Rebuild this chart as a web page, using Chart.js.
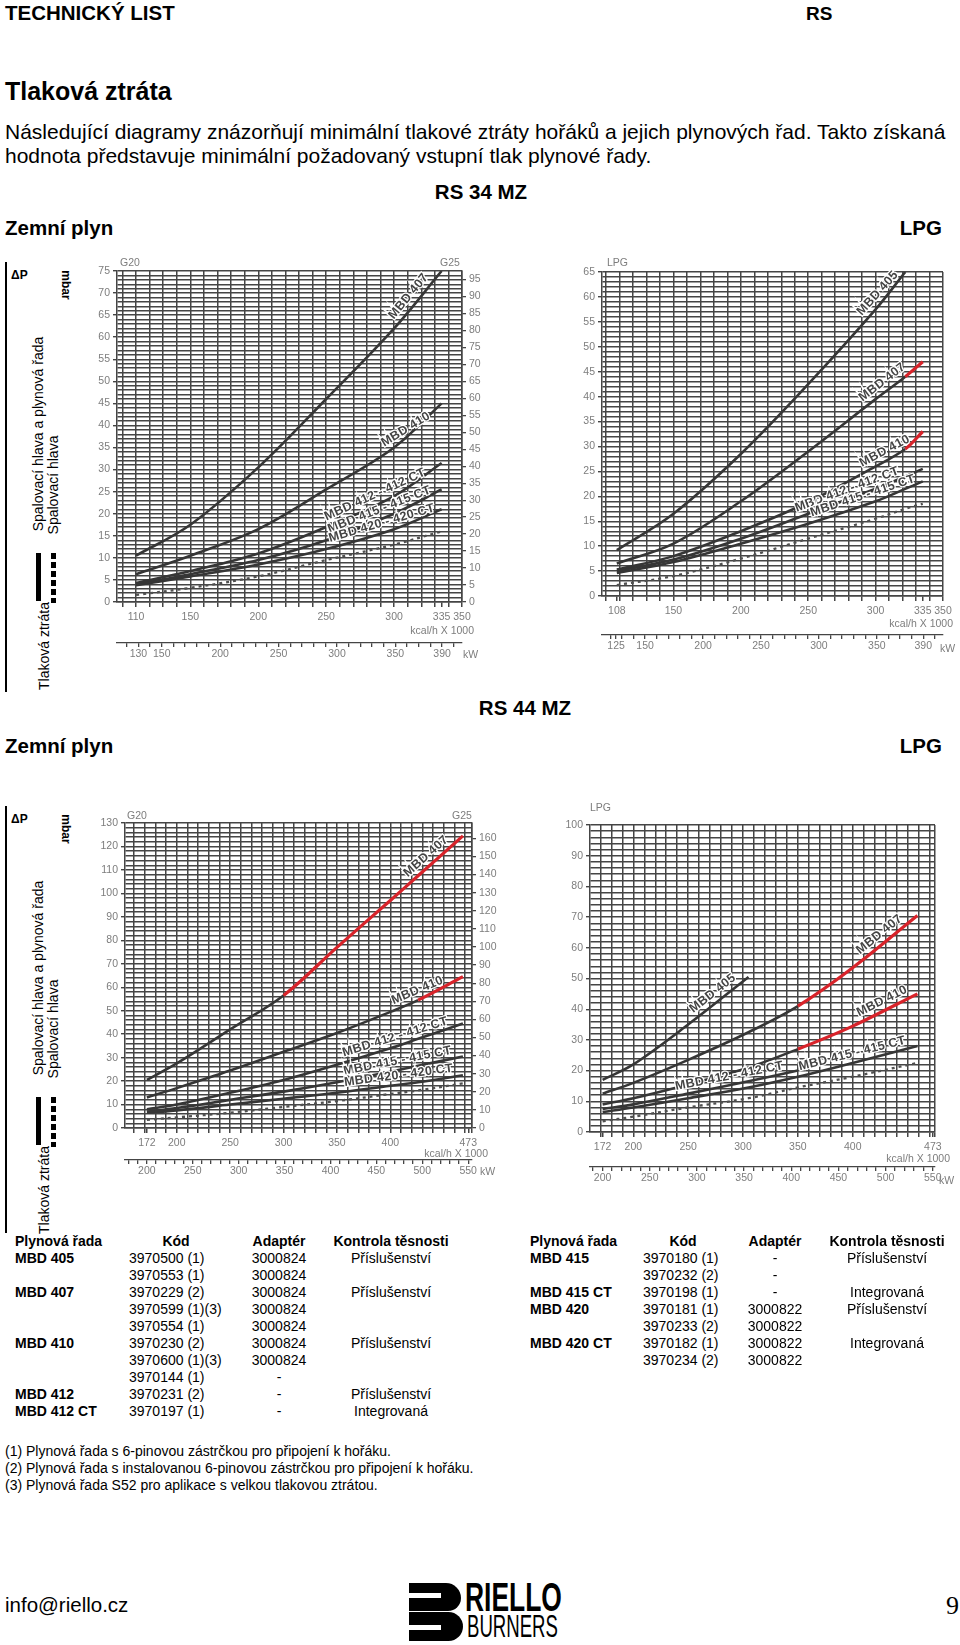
<!DOCTYPE html>
<html lang="cs">
<head>
<meta charset="utf-8">
<title>Tlaková ztráta – RS 34 MZ / RS 44 MZ</title>
<script src="https://cdn.jsdelivr.net/npm/chart.js@4.4.1/dist/chart.umd.min.js"></script>
<style>
  html, body { margin: 0; padding: 0; background: #fff; }
  body { position: relative; width: 960px; height: 1645px; overflow: hidden;
         font-family: "Liberation Sans", Arial, Helvetica, sans-serif; color: #000; }
  .t { position: absolute; white-space: nowrap; line-height: 1; transform: translateY(-50%); }
  .c { transform: translate(-50%, -50%); }
  .b { font-weight: bold; }
  .up { transform: translate(-50%, -50%) rotate(-90deg); }
  .down { transform: translate(-50%, -50%) rotate(90deg); }
  .ax { font-size: 10.5px; color: #7d7d7d; }
  canvas { position: absolute; }
  .legend { position: absolute; left: 0; width: 80px; }
  .dash { position: absolute; background: repeating-linear-gradient(to bottom, #000 0 6px, transparent 6px 9px); }
</style>
</head>
<body>

<div class="t b" style="left:5px;top:13px;font-size:20.5px">TECHNICKÝ LIST</div>
<div class="t b" style="left:806px;top:13px;font-size:19px">RS</div>
<div class="t b" style="left:5px;top:91px;font-size:25px">Tlaková ztráta</div>
<div class="t" style="left:5px;top:131px;font-size:21px">Následující diagramy znázorňují minimální tlakové ztráty hořáků a jejich plynových řad. Takto získaná</div>
<div class="t" style="left:5px;top:155px;font-size:21px">hodnota představuje minimální požadovaný vstupní tlak plynové řady.</div>

<div class="t b c" style="left:481px;top:192px;font-size:20.5px">RS 34 MZ</div>
<div class="t b" style="left:5px;top:228px;font-size:20.5px">Zemní plyn</div>
<div class="t b" style="right:18px;top:228px;font-size:20.5px">LPG</div>

<div class="t b c" style="left:525px;top:708px;font-size:20.5px">RS 44 MZ</div>
<div class="t b" style="left:5px;top:746px;font-size:20.5px">Zemní plyn</div>
<div class="t b" style="right:18px;top:746px;font-size:20.5px">LPG</div>

<!-- legenda vlevo (2x) -->
<div class="legend" style="top:262px;height:430px">
  <div style="position:absolute;left:5px;top:0;width:1.5px;height:430px;background:#000"></div>
  <div class="t b" style="left:11px;top:13px;font-size:12px">ΔP</div>
  <div class="t b down" style="left:66px;top:23px;font-size:12px">mbar</div>
  <div class="t up" style="left:37.5px;top:171.5px;font-size:14px">Spalovací hlava a plynová řada</div>
  <div class="t up" style="left:52.5px;top:222.5px;font-size:14px">Spalovací hlava</div>
  <div style="position:absolute;left:36px;top:291px;width:4.5px;height:48px;background:#000"></div>
  <div class="dash" style="left:51px;top:291px;width:4.5px;height:50px"></div>
  <div class="t up" style="left:43.5px;top:384px;font-size:14px">Tlaková ztráta</div>
</div>
<div class="legend" style="top:806px;height:427px">
  <div style="position:absolute;left:5px;top:0;width:1.5px;height:427px;background:#000"></div>
  <div class="t b" style="left:11px;top:13px;font-size:12px">ΔP</div>
  <div class="t b down" style="left:66px;top:23px;font-size:12px">mbar</div>
  <div class="t up" style="left:37.5px;top:171.5px;font-size:14px">Spalovací hlava a plynová řada</div>
  <div class="t up" style="left:52.5px;top:222.5px;font-size:14px">Spalovací hlava</div>
  <div style="position:absolute;left:36px;top:291px;width:4.5px;height:48px;background:#000"></div>
  <div class="dash" style="left:51px;top:291px;width:4.5px;height:50px"></div>
  <div class="t up" style="left:43.5px;top:384px;font-size:14px">Tlaková ztráta</div>
</div>

<canvas id="c34gas" width="412" height="412" style="left:88px;top:255px"></canvas>
<canvas id="c34lpg" width="388" height="403" style="left:572px;top:256px"></canvas>
<canvas id="c44gas" width="410" height="374" style="left:95px;top:808px"></canvas>
<canvas id="c44lpg" width="402" height="381" style="left:558px;top:810px"></canvas>

<!-- popisky os -->
<div class="t ax" style="left:120px;top:262px">G20</div>
<div class="t ax" style="left:440px;top:262px">G25</div>
<div class="t ax" style="right:486px;top:630px">kcal/h X 1000</div>
<div class="t ax" style="left:463px;top:654px">kW</div>

<div class="t ax" style="left:607px;top:262px">LPG</div>
<div class="t ax" style="right:7px;top:623px">kcal/h X 1000</div>
<div class="t ax" style="left:940px;top:648px">kW</div>

<div class="t ax" style="left:127px;top:815px">G20</div>
<div class="t ax" style="left:452px;top:815px">G25</div>
<div class="t ax" style="right:472px;top:1153px">kcal/h X 1000</div>
<div class="t ax" style="left:480px;top:1171px">kW</div>

<div class="t ax" style="left:590px;top:807px">LPG</div>
<div class="t ax" style="right:10px;top:1158px">kcal/h X 1000</div>
<div class="t ax" style="left:939px;top:1180px">kW</div>

<div id="tables"></div>

<div class="t" style="left:5px;top:1451px;font-size:14px">(1) Plynová řada s 6-pinovou zástrčkou pro připojení k hořáku.</div>
<div class="t" style="left:5px;top:1468px;font-size:14px">(2) Plynová řada s instalovanou 6-pinovou zástrčkou pro připojení k hořáku.</div>
<div class="t" style="left:5px;top:1485px;font-size:14px">(3) Plynová řada S52 pro aplikace s velkou tlakovou ztrátou.</div>

<div class="t" style="left:5px;top:1605px;font-size:20.5px">info@riello.cz</div>
<div class="t" style="right:1px;top:1606px;font-size:26px;font-family:'Liberation Serif',serif">9</div>

<div style="position:absolute;left:407px;top:1579px;width:156px;height:64px">
  <div style="position:absolute;left:2px;top:4px;width:52px;height:28px;background:#000;border-radius:0 15px 13px 0"></div>
  <div style="position:absolute;left:2px;top:33px;width:54px;height:29px;background:#000;border-radius:0 15px 15px 0"></div>
  <div style="position:absolute;left:2px;top:14px;width:32px;height:5px;background:#fff"></div>
  <div style="position:absolute;left:2px;top:46px;width:32px;height:5px;background:#fff"></div>
  <div style="position:absolute;left:58px;top:-2px;font-weight:bold;font-size:40px;line-height:1;transform:scaleX(0.66);transform-origin:left top">RIELLO</div>
  <div style="position:absolute;left:60px;top:32px;font-size:31px;line-height:1;transform:scaleX(0.6);transform-origin:left top">BURNERS</div>
</div>

<script>
// RS 34 MZ – zemní plyn (G20, mbar) vs. výkon kcal/h x 1000
const rs34GasKcal = [110, 150, 200, 250, 300, 335];
const rs34GasMbd407 = [10.5, 17.5, 30.5, 46, 62, 75];
const rs34GasMbd410 = [6.3, 10.5, 16.5, 25.5, 35, 45];
const rs34GasMbd412 = [4.3, 7, 11, 17, 24, 31.5];
const rs34GasMbd415 = [4, 6.3, 9.5, 14, 20, 25.5];
const rs34GasMbd420 = [3.8, 5.8, 8.5, 12, 16.5, 21];
const rs34GasHead = [1.6, 3.2, 5.8, 9.5, 13, 16];
const rs34GasKcalTicks = [110, 150, 200, 250, 300, 335, 350];
const rs34GasKwTicks = [130, 150, 200, 250, 300, 350, 390];

// RS 34 MZ – LPG
const rs34LpgKcal = [108, 150, 200, 250, 300, 322, 335];
const rs34LpgMbd405 = [9.2, 16.5, 28.5, 42.5, 57.5, 65, null];
const rs34LpgMbd407 = [6.5, 10.5, 19, 29, 39.5, 44, 47];
const rs34LpgMbd410 = [5.3, 8, 13, 18.8, 26, 29.5, 33];
const rs34LpgMbd412 = [5, 7.3, 11.5, 16.5, 21.5, 24, 25.5];
const rs34LpgMbd415 = [4.6, 6.8, 10.5, 14.5, 19, 21.5, 23];
const rs34LpgHead = [2.2, 4, 7.5, 11.5, 15.5, 17.5, 18.5];
const rs34LpgKcalTicks = [108, 150, 200, 250, 300, 335, 350];
const rs34LpgKwTicks = [125, 150, 200, 250, 300, 350, 390];

// RS 44 MZ – zemní plyn
const rs44GasKcal = [172, 200, 250, 300, 350, 400, 426, 468];
const rs44GasMbd407 = [20.5, 27.5, 42, 56.5, 77, 97, 107.5, 124.5];
const rs44GasMbd410 = [13, 17, 24.5, 32.5, 40.5, 49.5, 54.5, 64.5];
const rs44GasMbd412 = [8, 10, 15, 20.5, 27, 34, 38, 44.5];
const rs44GasMbd415 = [7, 8.5, 12, 15.5, 19.5, 24, 26.5, 30.5];
const rs44GasMbd420 = [6.5, 7.5, 10, 12.5, 15, 18, 19.5, 22.5];
const rs44GasHead = [3.5, 4.5, 6.5, 9, 11.5, 14.5, 16, 19];

// RS 44 MZ – LPG
const rs44LpgKcal = [172, 200, 250, 305, 350, 400, 459];
const rs44LpgMbd405 = [17, 22, 35, 50.5, null, null, null];
const rs44LpgMbd407 = [12.5, 16, 23.5, 32.5, 41, 53.5, 70.5];
const rs44LpgMbd410 = [9, 11, 15.5, 21, 27, 34.5, 45];
const rs44LpgMbd412 = [7.5, 9, 12.5, 16.5, 20, null, null];
const rs44LpgMbd415 = [6.5, 8, 11, 14.5, 18, 22.5, 28];
const rs44LpgHead = [3.5, 5, 8, 11, 14.5, 18, 22.5];

const rs44KcalTicks = [172, 200, 250, 300, 350, 400, 473];
const rs44KwTicks = [200, 250, 300, 350, 400, 450, 500, 550];

const KW_PER_KCAL = 1.163; // 1000 kcal/h = 1,163 kW
const GRID = "#454545";
const CURVE = "#363636";
const HEAD = "#505050";
const RED = "#d8232a";
const TICK_TXT = "#7d7d7d";
const FONT = { family: '"Liberation Sans", Arial, sans-serif', size: 10.5 };

// tabulky plynovych rad
const tblLeft = [
    ["MBD 405", "3970500 (1)", "3000824", "Příslušenství"],
    ["", "3970553 (1)", "3000824", ""],
    ["MBD 407", "3970229 (2)", "3000824", "Příslušenství"],
    ["", "3970599 (1)(3)", "3000824", ""],
    ["", "3970554 (1)", "3000824", ""],
    ["MBD 410", "3970230 (2)", "3000824", "Příslušenství"],
    ["", "3970600 (1)(3)", "3000824", ""],
    ["", "3970144 (1)", "-", ""],
    ["MBD 412", "3970231 (2)", "-", "Příslušenství"],
    ["MBD 412 CT", "3970197 (1)", "-", "Integrovaná"],
];
const tblRight = [
    ["MBD 415", "3970180 (1)", "-", "Příslušenství"],
    ["", "3970232 (2)", "-", ""],
    ["MBD 415 CT", "3970198 (1)", "-", "Integrovaná"],
    ["MBD 420", "3970181 (1)", "3000822", "Příslušenství"],
    ["", "3970233 (2)", "3000822", ""],
    ["MBD 420 CT", "3970182 (1)", "3000822", "Integrovaná"],
    ["", "3970234 (2)", "3000822", ""],
];

const buildTable = (rows, col) => {
    const out = [];
    const cell = (txt, x, y, center, bold) =>
        `<div class="t${center ? " c" : ""}${bold ? " b" : ""}" style="left:${x}px;top:${y}px;font-size:14px">${txt}</div>`;
    out.push(cell("Plynová řada", col.name, 1241, false, true));
    out.push(cell("Kód", col.codeHead, 1241, true, true));
    out.push(cell("Adaptér", col.adapt, 1241, true, true));
    out.push(cell("Kontrola těsnosti", col.check, 1241, true, true));
    rows.forEach((r, i) => {
        const y = 1257.5 + i * 17.1;
        if (r[0]) out.push(cell(r[0], col.name, y, false, true));
        out.push(cell(r[1], col.code, y, false, false));
        out.push(cell(r[2], col.adapt, y, true, false));
        if (r[3]) out.push(cell(r[3], col.check, y, true, false));
    });
    return out.join("");
};
document.getElementById("tables").innerHTML =
    buildTable(tblLeft, { name: 15, codeHead: 176, code: 129, adapt: 279, check: 391 }) +
    buildTable(tblRight, { name: 530, codeHead: 683, code: 643, adapt: 775, check: 887 });

// pomocne funkce pro osy
const gridTicks = (min, max, step, extra) => {
    const vals = [];
    for (let v = Math.ceil(min / step - 1e-9) * step; v <= max + 1e-9; v += step) {
        vals.push(Math.round(v * 1000) / 1000);
    }
    extra.forEach((v) => {
        if (v >= min - 1e-9 && v <= max + 1e-9 && !vals.includes(v)) vals.push(v);
    });
    return vals.sort((a, b) => a - b);
};
const onStep = (v, step) => Math.abs(v / step - Math.round(v / step)) < 1e-6;
const fixSize = (prop, size) => (s) => {
    s[prop] = size;
    s.paddingLeft = s.paddingRight = s.paddingTop = s.paddingBottom = 0;
};

// popisky podel krivek (MBD ...)
const curveTags = {
    id: "curveTags",
    afterDatasetsDraw(chart) {
        const { ctx } = chart;
        const xs = chart.scales.x, ys = chart.scales.y;
        chart.data.datasets.forEach((ds) => {
            if (!ds.tag) return;
            const pts = ds.data;
            let i = pts.findIndex((p, k) => k < pts.length - 1 && p.x <= ds.tag.at && pts[k + 1].x >= ds.tag.at);
            if (i < 0) i = pts.length - 2;
            const a = pts[i], b = pts[i + 1];
            const t = (ds.tag.at - a.x) / (b.x - a.x);
            const px = xs.getPixelForValue(ds.tag.at);
            const py = ys.getPixelForValue(a.y + t * (b.y - a.y));
            const ang = Math.atan2(
                ys.getPixelForValue(b.y) - ys.getPixelForValue(a.y),
                xs.getPixelForValue(b.x) - xs.getPixelForValue(a.x)
            );
            ctx.save();
            ctx.translate(px, py);
            ctx.rotate(ang);
            ctx.font = 'bold 12.5px "Liberation Sans", Arial, sans-serif';
            if ("letterSpacing" in ctx) ctx.letterSpacing = "0.3px";
            ctx.textAlign = "left";
            ctx.textBaseline = "bottom";
            ctx.lineWidth = 2.5;
            ctx.strokeStyle = "#fff";
            ctx.strokeText(ds.tag.text, 0, -3);
            ctx.fillStyle = "#444";
            ctx.fillText(ds.tag.text, 0, -3);
            ctx.restore();
        });
    },
};

const drawChart = (id, c) => {
    const scales = {
        x: {
            type: "linear", position: "bottom", weight: 0, min: c.xMin, max: c.xMax,
            afterBuildTicks: (s) => {
                s.ticks = gridTicks(c.xMin, c.xMax, 10, c.xLabels.concat([c.xMin, c.xMax])).map((v) => ({ value: v }));
            },
            afterFit: fixSize("height", c.xAxisH),
            grid: {
                color: (ctx) => ctx.tick && (onStep(ctx.tick.value, 10) || ctx.tick.value === c.xMax) ? GRID : "transparent",
                tickColor: (ctx) => ctx.tick && ctx.tick.value !== c.xMin ? GRID : "transparent",
                lineWidth: 1.5, tickLength: 5,
            },
            border: { display: true, color: GRID, width: 1.5 },
            ticks: {
                autoSkip: false, maxRotation: 0, minRotation: 0, padding: 4, color: TICK_TXT, font: FONT,
                callback: (v) => (c.xLabels.includes(v) ? String(v) : ""),
            },
        },
        kw: {
            type: "linear", position: "bottom", weight: 1,
            min: c.xMin * KW_PER_KCAL, max: c.xMax * KW_PER_KCAL,
            afterBuildTicks: (s) => {
                s.ticks = gridTicks(c.xMin * KW_PER_KCAL, c.xMax * KW_PER_KCAL, 10, c.kwLabels).map((v) => ({ value: v }));
            },
            afterFit: fixSize("height", c.kwAxisH),
            grid: { drawOnChartArea: false, color: GRID, lineWidth: 1.3, tickLength: 4 },
            border: { display: true, color: GRID, width: 1.3 },
            ticks: {
                autoSkip: false, maxRotation: 0, minRotation: 0, padding: 1, color: TICK_TXT, font: FONT,
                callback: (v) => (c.kwLabels.includes(v) ? String(v) : ""),
            },
        },
        y: {
            type: "linear", position: "left", min: 0, max: c.yMax,
            afterBuildTicks: (s) => {
                s.ticks = gridTicks(0, c.yMax, c.yGrid, []).map((v) => ({ value: v }));
            },
            afterFit: fixSize("width", c.yAxisW),
            grid: {
                color: GRID, lineWidth: 1.4, tickLength: 4,
                tickColor: (ctx) => (ctx.tick && onStep(ctx.tick.value, c.yStep) ? GRID : "transparent"),
            },
            border: { display: true, color: GRID, width: 1.5 },
            ticks: {
                autoSkip: false, padding: 3, color: TICK_TXT, font: FONT,
                callback: (v) => (onStep(v, c.yStep) ? String(v) : ""),
            },
        },
    };
    if (c.y2Max) {
        scales.y2 = {
            type: "linear", position: "right", min: 0, max: c.y2Max,
            afterBuildTicks: (s) => {
                s.ticks = gridTicks(0, c.y2Max, c.y2Step, []).map((v) => ({ value: v }));
            },
            afterFit: fixSize("width", c.y2AxisW),
            grid: { drawOnChartArea: false, color: GRID, lineWidth: 1.3, tickLength: 4 },
            border: { display: true, color: GRID, width: 1.5 },
            ticks: { autoSkip: false, padding: 3, color: TICK_TXT, font: FONT },
        };
    }

    const datasets = c.series.map((s) => ({
        data: s.x.map((v, i) => ({ x: v, y: s.y[i] })).filter((p) => p.y !== null),
        borderColor: s.head ? HEAD : CURVE,
        borderWidth: s.head ? 2.3 : 2.6,
        borderDash: s.head ? [3, 4] : [],
        pointRadius: 0,
        tension: 0.35,
        segment: s.redFrom
            ? {
                  borderColor: (ctx) => (ctx.p0.parsed.x >= s.redFrom - 1e-6 ? RED : undefined),
                  borderWidth: (ctx) => (ctx.p0.parsed.x >= s.redFrom - 1e-6 ? 3.2 : undefined),
              }
            : {},
        tag: s.tag,
        xAxisID: "x",
        yAxisID: "y",
    }));

    new Chart(document.getElementById(id), {
        type: "line",
        data: { datasets },
        options: {
            responsive: false,
            animation: false,
            devicePixelRatio: 1,
            events: [],
            layout: { padding: { top: c.padTop, right: c.padRight, left: 0, bottom: 0 } },
            plugins: { legend: { display: false }, tooltip: { enabled: false } },
            scales,
        },
        plugins: [curveTags],
    });
};

drawChart("c34gas", {
    xMin: 96, xMax: 350, xLabels: rs34GasKcalTicks, kwLabels: rs34GasKwTicks,
    yMax: 75, yGrid: 1, yStep: 5, y2Max: 97.5, y2Step: 5,
    yAxisW: 29, y2AxisW: 38, xAxisH: 41, kwAxisH: 24, padTop: 16, padRight: 0,
    series: [
        { x: rs34GasKcal, y: rs34GasMbd407, tag: { text: "MBD 407", at: 303 } },
        { x: rs34GasKcal, y: rs34GasMbd410, tag: { text: "MBD 410", at: 295 } },
        { x: rs34GasKcal, y: rs34GasMbd412, tag: { text: "MBD 412 - 412 CT", at: 252 } },
        { x: rs34GasKcal, y: rs34GasMbd415, tag: { text: "MBD 415 - 415 CT", at: 254 } },
        { x: rs34GasKcal, y: rs34GasMbd420, tag: { text: "MBD 420 - 420 CT", at: 254 } },
        { x: rs34GasKcal, y: rs34GasHead, head: true },
    ],
});

drawChart("c34lpg", {
    xMin: 97, xMax: 350, xLabels: rs34LpgKcalTicks, kwLabels: rs34LpgKwTicks,
    yMax: 65, yGrid: 1, yStep: 5,
    yAxisW: 30, xAxisH: 39, kwAxisH: 24, padTop: 16, padRight: 17,
    series: [
        { x: rs34LpgKcal, y: rs34LpgMbd405, tag: { text: "MBD 405", at: 293 } },
        { x: rs34LpgKcal, y: rs34LpgMbd407, redFrom: 322, tag: { text: "MBD 407", at: 293 } },
        { x: rs34LpgKcal, y: rs34LpgMbd410, redFrom: 322, tag: { text: "MBD 410", at: 292 } },
        { x: rs34LpgKcal, y: rs34LpgMbd412, tag: { text: "MBD 412 - 412 CT", at: 243 } },
        { x: rs34LpgKcal, y: rs34LpgMbd415, tag: { text: "MBD 415 - 415 CT", at: 254 } },
        { x: rs34LpgKcal, y: rs34LpgHead, head: true },
    ],
});

drawChart("c44gas", {
    xMin: 151.5, xMax: 476.5, xLabels: rs44KcalTicks, kwLabels: rs44KwTicks,
    yMax: 130, yGrid: 2, yStep: 10, y2Max: 168.5, y2Step: 10,
    yAxisW: 30, y2AxisW: 33, xAxisH: 32, kwAxisH: 22, padTop: 15, padRight: 0,
    series: [
        { x: rs44GasKcal, y: rs44GasMbd407, redFrom: 300, tag: { text: "MBD 407", at: 420 } },
        { x: rs44GasKcal, y: rs44GasMbd410, redFrom: 426, tag: { text: "MBD 410", at: 405 } },
        { x: rs44GasKcal, y: rs44GasMbd412, tag: { text: "MBD 412 - 412 CT", at: 358 } },
        { x: rs44GasKcal, y: rs44GasMbd415, tag: { text: "MBD 415 - 415 CT", at: 358 } },
        { x: rs44GasKcal, y: rs44GasMbd420, tag: { text: "MBD 420 - 420 CT", at: 358 } },
        { x: rs44GasKcal, y: rs44GasHead, head: true },
    ],
});

drawChart("c44lpg", {
    xMin: 160.5, xMax: 475, xLabels: rs44KcalTicks, kwLabels: rs44KwTicks,
    yMax: 100, yGrid: 2, yStep: 10,
    yAxisW: 32, xAxisH: 35, kwAxisH: 24, padTop: 15, padRight: 25,
    series: [
        { x: rs44LpgKcal, y: rs44LpgMbd405, tag: { text: "MBD 405", at: 258 } },
        { x: rs44LpgKcal, y: rs44LpgMbd407, redFrom: 350, tag: { text: "MBD 407", at: 410 } },
        { x: rs44LpgKcal, y: rs44LpgMbd410, redFrom: 350, tag: { text: "MBD 410", at: 408 } },
        { x: rs44LpgKcal, y: rs44LpgMbd412, tag: { text: "MBD 412 - 412 CT", at: 240 } },
        { x: rs44LpgKcal, y: rs44LpgMbd415, tag: { text: "MBD 415 - 415 CT", at: 353 } },
        { x: rs44LpgKcal, y: rs44LpgHead, head: true },
    ],
});
</script>
</body>
</html>
